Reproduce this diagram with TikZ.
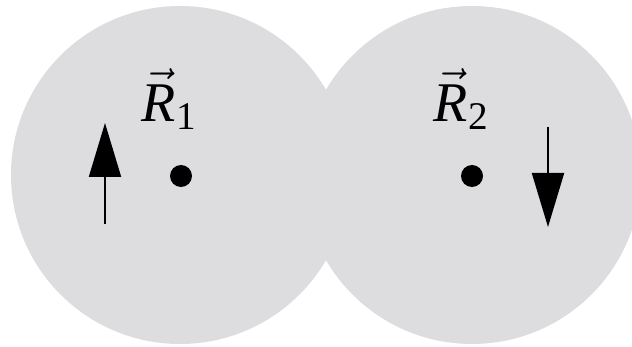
\documentclass[tikz,border=0pt]{standalone}
\usepackage{fix-cm}
\usepackage{fontspec}
\setmainfont{Liberation Serif}
\usetikzlibrary{arrows.meta, positioning}

\definecolor{blobgray}{RGB}{221,220,223}

\begin{document}
\begin{tikzpicture}[
    x=1pt, y=-1pt,
    blob/.style={fill=blobgray, draw=none},
    center/.style={circle, fill=black, inner sep=0pt, minimum size=22pt},
    lbl/.style={inner sep=0pt, font=\fontsize{56}{64}\selectfont},
    spin/.style={-{Triangle[length=54pt, width=32pt]}, line width=2pt}
]
\useasboundingbox (0,0) rectangle (632,347);

% ---- Two overlapping spheres ----
\fill[blob] (180,175) circle[radius=169];
\fill[blob] (472,175) circle[radius=169];

% ---- Centres and labels ----
\node[center] (dot1) at (181,176) {};
\node[center] (dot2) at (472,176) {};
\node[lbl] (lab1) at (169,99) {$\vec{\mathit{R}}_{\mathrm{1}}$};
\node[lbl] (lab2) at (461,99) {$\vec{\mathit{R}}_{\mathrm{2}}$};

% ---- Spins ----
\coordinate (up1)   at (105,224);
\coordinate (up2)   at (105,123);
\coordinate (down1) at (548,127);
\coordinate (down2) at (548,227);
\draw[spin] (up1) -- (up2);
\draw[spin] (down1) -- (down2);

\end{tikzpicture}
\end{document}
